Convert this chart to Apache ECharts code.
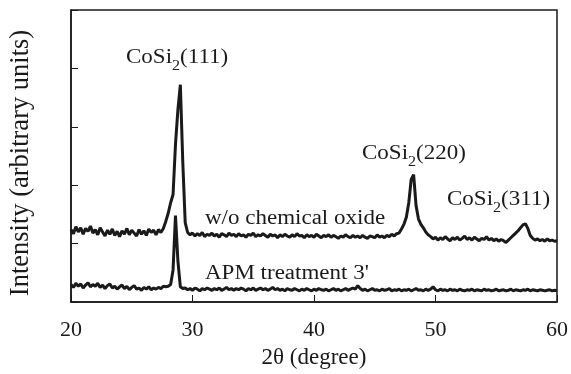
<!DOCTYPE html>
<html>
<head>
<meta charset="utf-8">
<script src="https://cdn.jsdelivr.net/npm/echarts@6/dist/echarts.min.js"></script>
<style>
html,body{margin:0;padding:0;background:#fff;}
#chart{width:571px;height:374px;}
</style>
</head>
<body>
<div id="chart"></div>
<script>
// 2θ sampling grid: 20.0 to 60.0 in 0.2° steps (201 points)
var thetaStart = 20.0, thetaStep = 0.2;
var xTicks = [20, 30, 40, 50, 60];

// w/o chemical oxide (offset trace)
var woOxide = [
1.24,1.17,1.29,1.20,1.27,1.16,1.26,1.21,1.30,1.18,
1.24,1.15,1.27,1.20,1.13,1.23,1.16,1.25,1.14,1.21,
1.12,1.22,1.16,1.26,1.15,1.23,1.18,1.13,1.24,1.16,
1.22,1.14,1.25,1.19,1.23,1.15,1.24,1.19,1.26,
1.38,1.52,1.70,1.84,2.70,3.30,3.72,2.40,1.36,
1.19,1.15,1.18,1.13,1.17,1.14,1.19,1.12,1.16,1.14,
1.18,1.13,1.16,1.11,1.17,1.15,1.12,1.18,1.14,1.16,
1.12,1.17,1.13,1.15,1.11,1.16,1.14,1.18,1.12,1.15,
1.13,1.17,1.14,1.11,1.16,1.13,1.15,1.10,1.15,1.12,
1.16,1.13,1.11,1.15,1.12,1.17,1.13,1.14,1.10,1.15,
1.12,1.14,1.11,1.16,1.13,1.10,1.14,1.12,1.15,1.11,
1.14,1.12,1.09,1.13,1.11,1.15,1.12,1.10,1.14,1.11,
1.13,1.10,1.14,1.11,1.09,1.13,1.12,1.10,1.15,1.11,
1.13,1.10,1.14,1.12,1.16,1.13,1.17,
1.18,1.25,1.33,1.45,1.70,2.10,2.18,1.65,1.42,1.33,1.27,1.20,1.15,
1.12,1.08,1.11,1.06,1.10,1.07,1.12,1.08,1.05,1.10,
1.07,1.11,1.06,1.09,1.13,1.07,1.10,1.06,1.11,1.08,
1.05,1.09,1.07,1.12,1.06,1.09,1.05,1.08,1.04,1.07,
1.05,1.02,1.06,
1.10,1.14,1.18,1.22,1.27,1.32,1.34,1.26,1.14,
1.09,1.06,1.08,1.05,1.07,1.04,1.08,1.05,1.06,1.04,1.05
];

// APM treatment 3'
var apm3 = [
0.30,0.25,0.32,0.27,0.31,0.24,0.29,0.33,0.26,0.30,
0.27,0.32,0.25,0.29,0.23,0.28,0.31,0.24,0.27,0.22,
0.26,0.29,0.23,0.27,0.21,0.25,0.28,0.22,0.24,0.20,
0.25,0.22,0.26,0.21,0.24,0.22,0.25,0.23,0.27,0.26,
0.27,0.30,0.55,1.48,0.70,0.26,0.23,
0.24,0.21,0.23,0.20,0.24,0.22,0.19,0.23,0.21,0.24,
0.22,0.20,0.23,0.21,0.24,0.20,0.22,0.25,0.21,0.23,
0.20,0.23,0.21,0.24,0.22,0.19,0.23,0.21,0.24,0.20,
0.22,0.24,0.21,0.23,0.20,0.22,0.25,0.21,0.23,0.20,
0.22,0.19,0.23,0.21,0.20,0.23,0.21,0.19,0.22,0.20,
0.23,0.21,0.19,0.22,0.20,0.23,0.21,0.20,0.22,0.19,
0.21,0.23,0.20,0.22,0.19,0.21,0.23,0.20,0.22,0.24,
0.22,0.28,0.23,0.20,0.22,0.19,0.21,0.23,0.20,0.21,
0.19,0.22,0.20,0.21,0.23,0.19,0.21,0.20,0.22,0.19,
0.21,0.20,0.22,0.19,0.21,0.23,0.20,0.21,0.19,0.22,
0.20,0.22,0.26,0.21,0.19,0.22,0.20,0.21,0.19,0.22,
0.20,0.21,0.19,0.22,0.20,0.19,0.21,0.20,0.22,0.19,
0.21,0.20,0.19,0.22,0.20,0.21,0.19,0.20,0.22,0.19,
0.20,0.21,0.19,0.20,0.22,0.19,0.21,0.20,0.19,0.21,
0.20,0.22,0.19,0.21,0.20,0.19,0.21,0.20,0.19,0.20,
0.21,0.19,0.20,0.19
];

var peakLabels = ['(111)', '(220)', '(311)'];
var traceLabels = ['w/o chemical oxide', "APM treatment 3'"];
var xName = '2θ (degree)';
var yName = 'Intensity (arbitrary units)';

function toPairs(arr) {
  var out = [];
  for (var i = 0; i < arr.length; i++) {
    out.push([+(thetaStart + i * thetaStep).toFixed(2), arr[i]]);
  }
  return out;
}

var FONT = '"Liberation Serif", "Times New Roman", serif';
var INK = '#1a1a1a';

var chart = echarts.init(document.getElementById('chart'), null, {renderer: 'canvas'});

function coSiText(hkl, left, baseline) {
  return {
    type: 'text',
    left: left,
    top: baseline - 17,
    scaleX: 1.15,
    style: {
      text: '{a|CoSi}{b|2}{a|' + hkl + '}',
      rich: {
        a: {fontFamily: FONT, fontSize: 20, fill: INK, lineHeight: 22, verticalAlign: 'bottom'},
        b: {fontFamily: FONT, fontSize: 14, fill: INK, lineHeight: 22, verticalAlign: 'bottom', padding: [0, 0, -5, 0]}
      }
    }
  };
}

function plainText(t, left, baseline) {
  return {
    type: 'text',
    left: left,
    top: baseline - 17,
    scaleX: 1.15,
    style: {text: t, fontFamily: FONT, fontSize: 20, fill: INK}
  };
}

chart.setOption({
  animation: false,
  backgroundColor: '#fff',
  grid: {left: 70, right: 12, top: 10, bottom: 63, show: true, borderColor: INK, borderWidth: 1.5, backgroundColor: 'transparent'},
  xAxis: {
    type: 'value', min: 20, max: 60, interval: 10,
    name: xName, nameLocation: 'middle', nameGap: 44,
    nameTextStyle: {fontFamily: FONT, fontSize: 23, color: INK},
    axisLine: {show: true, lineStyle: {color: INK, width: 1.5}},
    axisTick: {show: true, inside: true, length: 7, lineStyle: {color: INK, width: 1}},
    axisLabel: {fontFamily: FONT, fontSize: 22, color: INK, margin: 17,
      formatter: function (v) { return xTicks.indexOf(v) >= 0 ? String(v) : ''; }},
    splitLine: {show: false}
  },
  yAxis: {
    type: 'value', min: 0, max: 5, interval: 1,
    name: yName, nameLocation: 'middle', nameGap: 36,
    nameTextStyle: {fontFamily: FONT, fontSize: 26.5, color: INK, padding: [0, 14, 0, 0]},
    axisLine: {show: true, lineStyle: {color: INK, width: 1.5}},
    axisTick: {show: true, inside: true, length: 7, lineStyle: {color: INK, width: 1}},
    axisLabel: {show: false},
    splitLine: {show: false}
  },
  series: [
    {type: 'line', name: traceLabels[0], data: toPairs(woOxide), showSymbol: false, symbol: 'none',
     lineStyle: {color: INK, width: 3}, clip: true},
    {type: 'line', name: traceLabels[1], data: toPairs(apm3), showSymbol: false, symbol: 'none',
     lineStyle: {color: INK, width: 3}, clip: true}
  ],
  graphic: [
    coSiText(peakLabels[0], 126, 65),
    coSiText(peakLabels[1], 362, 161),
    coSiText(peakLabels[2], 447, 207),
    plainText(traceLabels[0], 205, 226),
    plainText(traceLabels[1], 205, 281)
  ]
});
</script>
</body>
</html>
